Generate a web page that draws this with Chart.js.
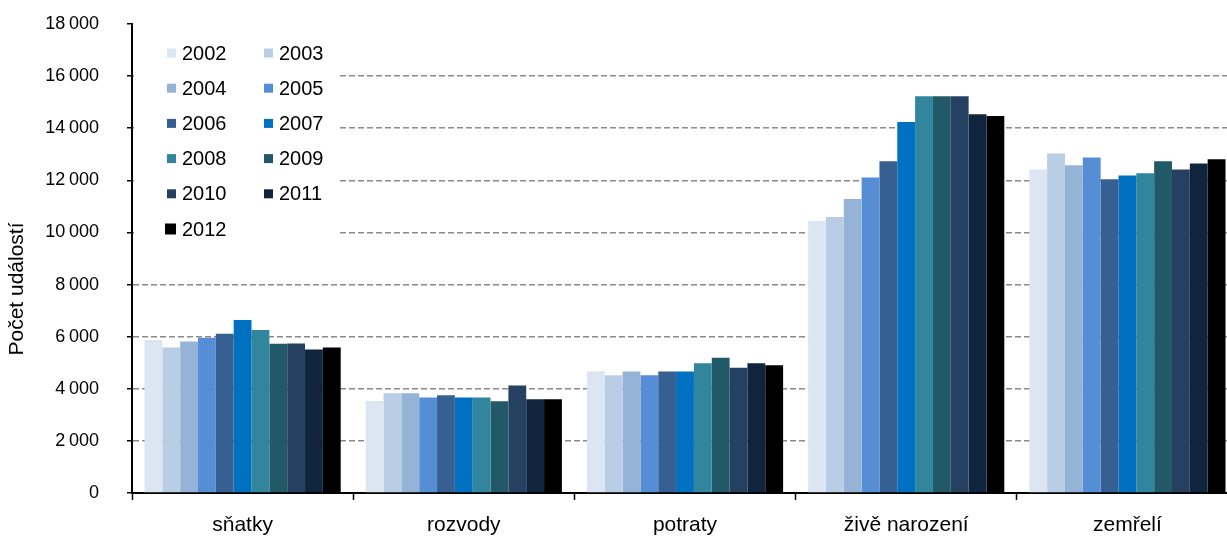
<!DOCTYPE html>
<html>
<head>
<meta charset="utf-8">
<script src="https://cdn.jsdelivr.net/npm/chart.js@4/dist/chart.umd.min.js"></script>
<style>
html,body{margin:0;padding:0;background:#fff;overflow:hidden;}
#wrap{position:relative;width:1240px;height:539px;}
</style>
</head>
<body>
<div id="wrap"><canvas id="c"></canvas></div>
<script>
const categories = ['sňatky', 'rozvody', 'potraty', 'živě narození', 'zemřelí'];
const years = ['2002','2003','2004','2005','2006','2007','2008','2009','2010','2011','2012'];
const v2002 = [5870, 3530, 4670, 10440, 12420];
const v2003 = [5580, 3830, 4520, 10590, 13030];
const v2004 = [5810, 3830, 4660, 11280, 12580];
const v2005 = [5960, 3670, 4520, 12110, 12880];
const v2006 = [6110, 3750, 4660, 12730, 12040];
const v2007 = [6640, 3670, 4660, 14240, 12190];
const v2008 = [6260, 3670, 4980, 15230, 12270];
const v2009 = [5730, 3520, 5190, 15230, 12730];
const v2010 = [5740, 4130, 4810, 15230, 12420];
const v2011 = [5510, 3600, 4980, 14540, 12650];
const v2012 = [5580, 3600, 4900, 14470, 12810];
const seriesValues = [v2002, v2003, v2004, v2005, v2006, v2007, v2008, v2009, v2010, v2011, v2012];
const colors = ['#DCE6F2','#B9CDE5','#95B3D7','#558ED5','#376092','#0070C0','#31859C','#215968','#254061','#10243E','#000000'];
const yTitle = 'Počet událostí';
const FONT = "'Liberation Sans', Arial, sans-serif";

function fmt(v){ return String(v).replace(/\B(?=(\d{3})+(?!\d))/g, '\u2009'); }

const legendPlugin = {
  id: 'customLegend',
  beforeDatasetsDraw(chart){
    const ctx = chart.ctx;
    ctx.save();
    ctx.fillStyle = '#fff';
    ctx.fillRect(134, 28, 206, 222);
    ctx.font = '20px ' + FONT;
    ctx.textBaseline = 'middle';
    ctx.textAlign = 'left';
    chart.data.datasets.forEach((ds, i) => {
      const col = i % 2, row = Math.floor(i / 2);
      const cy = 53 + row * 35.2;
      const bx = col === 0 ? 167 : 264;
      const tx = col === 0 ? 182 : 279;
      ctx.fillStyle = ds.backgroundColor;
      if (i === 10) ctx.fillRect(bx - 2, cy - 5.5, 11, 11);
      else ctx.fillRect(bx, cy - 4.5, 9, 9);
      ctx.fillStyle = '#000';
      ctx.fillText(ds.label, tx, cy + 1);
    });
    ctx.restore();
  },
  afterDraw(chart){
    const ctx = chart.ctx;
    ctx.save();
    ctx.translate(17.5, 289);
    ctx.rotate(-Math.PI / 2);
    ctx.font = '21px ' + FONT;
    ctx.fillStyle = '#000';
    ctx.textAlign = 'center';
    ctx.textBaseline = 'middle';
    ctx.fillText(yTitle, 0, 0);
    ctx.restore();
  }
};

new Chart(document.getElementById('c'), {
  type: 'bar',
  data: {
    labels: categories,
    datasets: years.map((y, i) => ({
      label: y,
      data: seriesValues[i],
      backgroundColor: colors[i],
      borderWidth: 0,
      categoryPercentage: 0.887,
      barPercentage: 1.0
    }))
  },
  options: {
    responsive: true,
    maintainAspectRatio: false,
    animation: false,
    layout: { padding: { top: 24, right: 2, left: 0, bottom: 0 } },
    plugins: { legend: { display: false }, tooltip: { enabled: false } },
    scales: {
      x: {
        afterFit(s){ s.height = 46; s.paddingLeft = 0; s.paddingRight = 0; },
        grid: { display: true, drawOnChartArea: false, drawTicks: true, tickLength: 7, tickColor: '#000', tickWidth: 1.5, offset: true },
        border: { display: true, color: '#000', width: 2 },
        ticks: { color: '#000', font: { family: FONT, size: 21 }, padding: 13, maxRotation: 0 }
      },
      y: {
        min: 0, max: 18000,
        afterFit(s){ s.width = 132; s.paddingTop = 0; s.paddingBottom = 0; },
        grid: {
          color: (c) => (c.tick && (c.tick.value === 0 || c.tick.value === 18000)) ? 'rgba(0,0,0,0)' : '#8a8a8a',
          lineWidth: 1.5,
          drawTicks: true, tickLength: 5, tickColor: '#000', tickWidth: 1.5
        },
        border: { display: true, color: '#000', width: 2, dash: [6, 3] },
        ticks: { stepSize: 2000, color: '#000', font: { family: FONT, size: 18 }, padding: 28, callback: (v) => fmt(v) }
      }
    }
  },
  plugins: [legendPlugin]
});
</script>
</body>
</html>
